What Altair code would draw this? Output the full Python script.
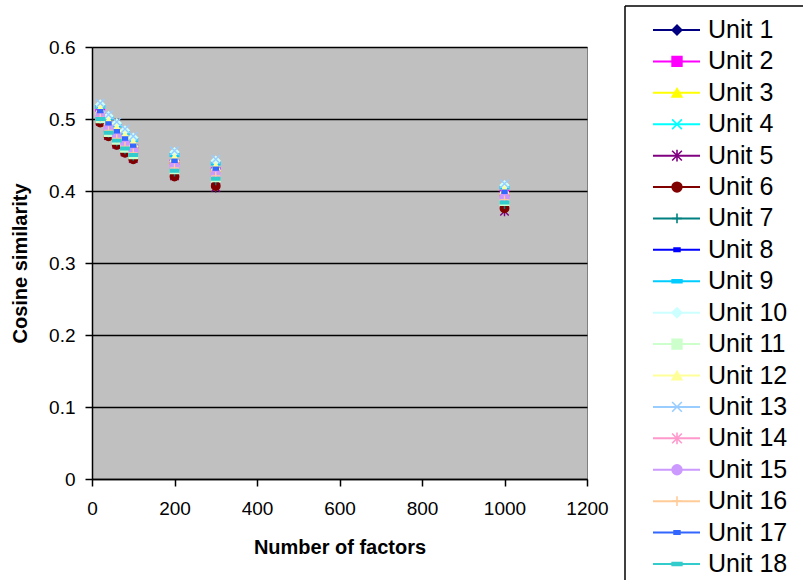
import altair as alt
import pandas as pd

# ---------------- data ----------------
factors = [20, 40, 60, 80, 100, 200, 300, 1000]

unit_names = ["Unit 1", "Unit 2", "Unit 3", "Unit 4", "Unit 5", "Unit 6",
              "Unit 7", "Unit 8", "Unit 9", "Unit 10", "Unit 11", "Unit 12",
              "Unit 13", "Unit 14", "Unit 15", "Unit 16", "Unit 17", "Unit 18"]

unit_1 = [0.508, 0.491, 0.480, 0.470, 0.460, 0.439, 0.428, 0.397]
unit_2 = [0.507, 0.489, 0.478, 0.468, 0.458, 0.437, 0.426, 0.395]
unit_3 = [0.512, 0.495, 0.485, 0.475, 0.465, 0.444, 0.432, 0.400]
unit_4 = [0.515, 0.499, 0.489, 0.479, 0.469, 0.448, 0.436, 0.403]
unit_5 = [0.497, 0.477, 0.465, 0.454, 0.445, 0.421, 0.405, 0.372]
unit_6 = [0.495, 0.476, 0.464, 0.453, 0.444, 0.420, 0.407, 0.376]
unit_7 = [0.499, 0.480, 0.468, 0.457, 0.448, 0.426, 0.414, 0.381]
unit_8 = [0.510, 0.493, 0.482, 0.472, 0.462, 0.441, 0.430, 0.398]
unit_9 = [0.517, 0.501, 0.491, 0.481, 0.471, 0.450, 0.438, 0.405]
unit_10 = [0.520, 0.504, 0.494, 0.484, 0.474, 0.454, 0.442, 0.408]
unit_11 = [0.501, 0.482, 0.471, 0.460, 0.451, 0.430, 0.419, 0.386]
unit_12 = [0.514, 0.497, 0.487, 0.477, 0.467, 0.446, 0.434, 0.402]
unit_13 = [0.522, 0.506, 0.496, 0.486, 0.476, 0.456, 0.444, 0.410]
unit_14 = [0.504, 0.486, 0.475, 0.464, 0.455, 0.434, 0.423, 0.390]
unit_15 = [0.505, 0.487, 0.476, 0.466, 0.456, 0.435, 0.424, 0.391]
unit_16 = [0.502, 0.484, 0.473, 0.462, 0.453, 0.432, 0.421, 0.388]
unit_17 = [0.511, 0.494, 0.483, 0.473, 0.463, 0.442, 0.431, 0.399]
unit_18 = [0.500, 0.481, 0.470, 0.459, 0.450, 0.428, 0.417, 0.384]

series = [unit_1, unit_2, unit_3, unit_4, unit_5, unit_6, unit_7, unit_8, unit_9,
          unit_10, unit_11, unit_12, unit_13, unit_14, unit_15, unit_16, unit_17, unit_18]

x_ticks = [0, 200, 400, 600, 800, 1000, 1200]
y_ticks = [0, 0.1, 0.2, 0.3, 0.4, 0.5, 0.6]

# ---------------- styles ----------------
colors = ["#000080", "#FF00FF", "#FFFF00", "#00FFFF", "#800080", "#800000",
          "#008080", "#0000FF", "#00CCFF", "#CCFFFF", "#CCFFCC", "#FFFF99",
          "#99CCFF", "#FF99CC", "#CC99FF", "#FFCC99", "#3366FF", "#33CCCC"]

X_PATH = "M-1,-1L1,1M-1,1L1,-1"
STAR_PATH = "M-1,-1L1,1M-1,1L1,-1M0,-1.2L0,1.2"
PLUS_PATH = "M-1,0L1,0M0,-1L0,1"
DASH_S = "M-0.6,-0.35L0.6,-0.35L0.6,0.35L-0.6,0.35Z"
DASH_L = "M-1,-0.3L1,-0.3L1,0.3L-1,0.3Z"

shapes = ["diamond", "square", "triangle-up", X_PATH, STAR_PATH, "circle",
          PLUS_PATH, DASH_S, DASH_L, "diamond", "square", "triangle-up",
          X_PATH, STAR_PATH, "circle", PLUS_PATH, DASH_S, DASH_L]

FONT = "Liberation Sans"

rows = []
for name, vals in zip(unit_names, series):
    for f, v in zip(factors, vals):
        rows.append({"unit": name, "factors": f, "similarity": v})
df = pd.DataFrame(rows)

color_scale = alt.Scale(domain=unit_names, range=colors)
shape_scale = alt.Scale(domain=unit_names, range=shapes)

main = alt.Chart(df).mark_point(filled=True, strokeWidth=1.4, opacity=1, size=72).encode(
    x=alt.X("factors:Q",
            scale=alt.Scale(domain=[0, 1200], nice=False, zero=True),
            axis=alt.Axis(values=x_ticks, format="d", title="Number of factors",
                          grid=False, labelPadding=13, titlePadding=19,
                          labelFlush=False)),
    y=alt.Y("similarity:Q",
            scale=alt.Scale(domain=[0, 0.6], nice=False),
            axis=alt.Axis(values=y_ticks, format=".1~f", title="Cosine similarity",
                          grid=True, labelPadding=10, titlePadding=18,
                          labelFlush=False)),
    fill=alt.Fill("unit:N", scale=color_scale, legend=None),
    stroke=alt.Stroke("unit:N", scale=color_scale, legend=None),
    shape=alt.Shape("unit:N", scale=shape_scale, legend=None),
).properties(
    width=495, height=432,
    view=alt.ViewBackground(fill="#C0C0C0", stroke="#808080", strokeWidth=1),
)

# ---------------- manual legend ----------------
leg_df = pd.DataFrame({"unit": unit_names, "idx": list(range(len(unit_names)))})
ly = alt.Y("idx:Q", scale=alt.Scale(domain=[0.5412, 14.295], reverse=True,
                                     nice=False, zero=False), axis=None)

one = pd.DataFrame({"a": [0]})
box_left = alt.Chart(one).mark_rule(color="black", strokeWidth=1.5).encode(
    x=alt.value(0), y=alt.value(-41), y2=alt.value(533))
box_top = alt.Chart(one).mark_rule(color="black", strokeWidth=1.5).encode(
    x=alt.value(0), x2=alt.value(178), y=alt.value(-41))

leg_lines = alt.Chart(leg_df).mark_rule(strokeWidth=2).encode(
    x=alt.value(28), x2=alt.value(75), y=ly,
    color=alt.Color("unit:N", scale=color_scale, legend=None))
leg_pts = alt.Chart(leg_df).mark_point(filled=True, strokeWidth=1.6, opacity=1, size=95).encode(
    x=alt.value(52), y=ly,
    fill=alt.Fill("unit:N", scale=color_scale, legend=None),
    stroke=alt.Stroke("unit:N", scale=color_scale, legend=None),
    shape=alt.Shape("unit:N", scale=shape_scale, legend=None))
leg_txt = alt.Chart(leg_df).mark_text(align="left", baseline="middle", fontSize=25,
                                      font=FONT, color="black").encode(
    x=alt.value(83), y=ly, text="unit:N")

legend = alt.layer(box_left, box_top, leg_lines, leg_pts, leg_txt).properties(
    width=179, height=432)

chart = alt.hconcat(main, legend, spacing=38, bounds="flush").properties(
    padding={"left": 10, "top": 5, "right": 0, "bottom": 0},
    background="white",
).configure_view(
    strokeWidth=0
).configure_axis(
    domainColor="black", domainWidth=1.5,
    tickColor="black", tickWidth=1.5, tickSize=7,
    gridColor="black", gridWidth=1.5,
    labelFont=FONT, labelFontSize=19, labelColor="black",
    titleFont=FONT, titleFontSize=20, titleFontWeight="bold", titleColor="black",
)

chart.save("out.html", embed_options={"renderer": "svg", "actions": False})
